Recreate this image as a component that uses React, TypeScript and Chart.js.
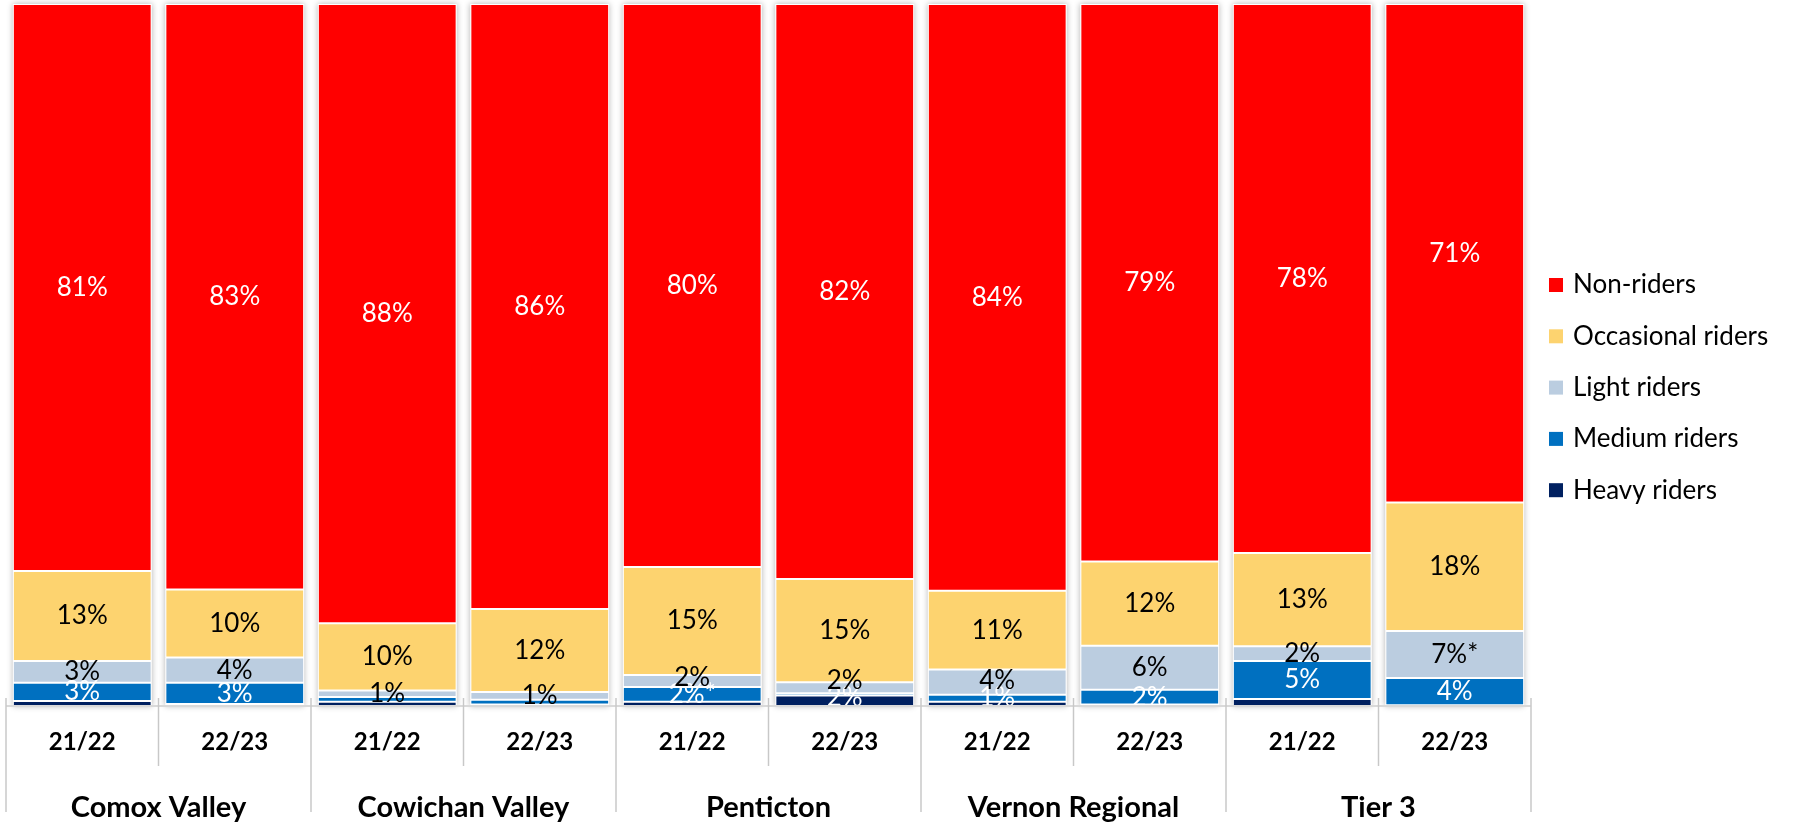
import React, { useEffect, useRef } from "react";
import { Chart, registerables } from "chart.js";

Chart.register(...registerables);

// ---- Data ----
const periods = ["21/22", "22/23", "21/22", "22/23", "21/22", "22/23", "21/22", "22/23", "21/22", "22/23"];
const regions = ["Comox Valley", "Cowichan Valley", "Penticton", "Vernon Regional", "Tier 3"];
const seriesNames = ["Non-riders", "Occasional riders", "Light riders", "Medium riders", "Heavy riders"];

const nonRiders = [80.7, 83.5, 88.3, 86.2, 80.2, 81.9, 83.6, 79.4, 78.2, 71.0];
const occasionalRiders = [12.8, 9.7, 9.6, 11.8, 15.4, 14.7, 11.2, 12.0, 13.3, 18.3];
const lightRiders = [3.1, 3.6, 0.9, 1.1, 1.7, 1.6, 3.6, 6.3, 2.1, 6.7];
const mediumRiders = [2.6, 3.0, 0.7, 0.7, 2.1, 0.3, 1.0, 2.1, 5.4, 3.9];
const heavyRiders = [0.7, 0.3, 0.6, 0.2, 0.6, 1.5, 0.6, 0.2, 1.0, 0.1];

const nonLabels = ["81%", "83%", "88%", "86%", "80%", "82%", "84%", "79%", "78%", "71%"];
const occasionalLabels = ["13%", "10%", "10%", "12%", "15%", "15%", "11%", "12%", "13%", "18%"];
const lightLabels = ["3%", "4%", "1%", "1%", "2%", "2%", "4%", "6%", "2%", "7%*"];
const mediumLabels = ["3%", "3%", null, null, "2%*", null, "1%", "2%", "5%", "4%"];
const heavyLabels = [null, null, null, null, null, "2%", null, null, null, null];

// ---- Styles ----
const FONT = "Lato";
const seriesColors = ["#FF0000", "#FDD36F", "#BBCDE0", "#0070C0", "#002060"];
const labelColors = ["#FFFFFF", "#000000", "#000000", "#FFFFFF", "#FFFFFF"];

export default function App() {
  const ref = useRef<HTMLCanvasElement | null>(null);

  useEffect(() => {
    const canvas = ref.current;
    if (!canvas) return;

    const seriesValues = [nonRiders, occasionalRiders, lightRiders, mediumRiders, heavyRiders];
    const seriesLabels = [nonLabels, occasionalLabels, lightLabels, mediumLabels, heavyLabels];
    const totals = periods.map((_, i) => seriesValues.reduce((s, arr) => s + arr[i], 0));

    // bottom-to-top stacking order: heavy, medium, light, occasional, non
    const order = [4, 3, 2, 1, 0];
    const datasets = order.map((si) => ({
      label: seriesNames[si],
      data: seriesValues[si].map((v, i) => (v / totals[i]) * 100),
      backgroundColor: seriesColors[si],
      borderColor: "#FFFFFF",
      borderWidth: 1,
      borderSkipped: false as const,
      barPercentage: 0.91,
      categoryPercentage: 1.0,
      _labels: seriesLabels[si],
      _labelColor: labelColors[si],
    }));

    const shadowPlugin = {
      id: "barShadow",
      beforeDatasetsDraw(chart: any) {
        const ctx = chart.ctx;
        const n = chart.data.datasets.length;
        const bottomMeta = chart.getDatasetMeta(0);
        const topMeta = chart.getDatasetMeta(n - 1);
        const base = chart.scales.y.getPixelForValue(0);
        ctx.save();
        bottomMeta.data.forEach((el: any, j: number) => {
          const topEl = topMeta.data[j];
          const w = el.width;
          ctx.shadowColor = "rgba(0,0,0,0.30)";
          ctx.shadowBlur = 6;
          ctx.fillStyle = "#FFFFFF";
          ctx.fillRect(el.x - w / 2, topEl.y, w, base - topEl.y);
        });
        ctx.restore();
      },
    };

    const labelPlugin = {
      id: "segLabels",
      afterDatasetsDraw(chart: any) {
        const ctx = chart.ctx;
        const area = chart.chartArea;
        ctx.save();
        ctx.font = `26px ${FONT}`;
        ctx.textAlign = "center";
        ctx.textBaseline = "middle";
        const nBars = periods.length;
        for (let j = 0; j < nBars; j++) {
          let lastY = Infinity;
          chart.data.datasets.forEach((ds: any, di: number) => {
            const el = chart.getDatasetMeta(di).data[j];
            const txt = ds._labels[j];
            if (!txt || !el) return;
            let y = Math.min((el.y + el.base) / 2, area.bottom - 8);
            if (y > lastY - 17) y = lastY - 17;
            lastY = y;
            ctx.fillStyle = ds._labelColor;
            ctx.fillText(txt, el.x, y);
          });
        }
        ctx.restore();
      },
    };

    const decorPlugin = {
      id: "decor",
      afterDraw(chart: any) {
        const ctx = chart.ctx;
        const area = chart.chartArea;
        const xs = chart.scales.x;
        const n = periods.length;
        ctx.save();
        // axis line
        ctx.strokeStyle = "#D9D9D9";
        ctx.lineWidth = 2;
        ctx.beginPath();
        ctx.moveTo(area.left, area.bottom);
        ctx.lineTo(area.right, area.bottom);
        ctx.stroke();
        // separators
        ctx.strokeStyle = "#C8C8C8";
        ctx.lineWidth = 1.5;
        for (let k = 0; k <= n; k++) {
          let x: number;
          if (k === 0) x = area.left;
          else if (k === n) x = area.right;
          else x = (xs.getPixelForValue(k - 1) + xs.getPixelForValue(k)) / 2;
          const isGroup = k % 2 === 0;
          ctx.beginPath();
          ctx.moveTo(x, area.bottom - 8);
          ctx.lineTo(x, isGroup ? area.bottom + 106 : area.bottom + 60);
          ctx.stroke();
        }
        // group labels
        ctx.fillStyle = "#000000";
        ctx.font = `bold 29px ${FONT}`;
        ctx.textAlign = "center";
        ctx.textBaseline = "middle";
        regions.forEach((r, g) => {
          const x = (xs.getPixelForValue(2 * g) + xs.getPixelForValue(2 * g + 1)) / 2;
          ctx.fillText(r, x, area.bottom + 102);
        });
        // legend
        ctx.font = `26px ${FONT}`;
        ctx.textAlign = "left";
        seriesNames.forEach((name, i) => {
          const cy = 285 + i * 51.3;
          ctx.fillStyle = seriesColors[i];
          ctx.fillRect(1549, cy - 7, 14, 14);
          ctx.fillStyle = "#000000";
          ctx.fillText(name, 1573, cy);
        });
        ctx.restore();
      },
    };

    const chart = new Chart(canvas, {
      type: "bar",
      data: { labels: periods, datasets: datasets as any },
      options: {
        animation: false,
        responsive: false,
        devicePixelRatio: 1,
        layout: { padding: { top: 4, left: 6, right: 262, bottom: 0 } },
        plugins: { legend: { display: false }, tooltip: { enabled: false } },
        scales: {
          x: {
            stacked: true,
            grid: { display: false, drawTicks: false, tickLength: 0 },
            border: { display: false },
            ticks: {
              color: "#000000",
              font: { family: FONT, size: 24, weight: "bold" },
              padding: 22,
              maxRotation: 0,
              autoSkip: false,
            },
            afterFit(scale: any) {
              scale.height = 116;
            },
          },
          y: {
            stacked: true,
            display: false,
            min: 0,
            max: 100,
          },
        },
      },
      plugins: [shadowPlugin, labelPlugin, decorPlugin],
    });

    return () => chart.destroy();
  }, []);

  return (
    <div style={{ position: "fixed", left: 0, top: 0, width: 1793, height: 822, background: "#FFFFFF" }}>
      <canvas ref={ref} width={1793} height={822} style={{ display: "block" }} />
    </div>
  );
}
